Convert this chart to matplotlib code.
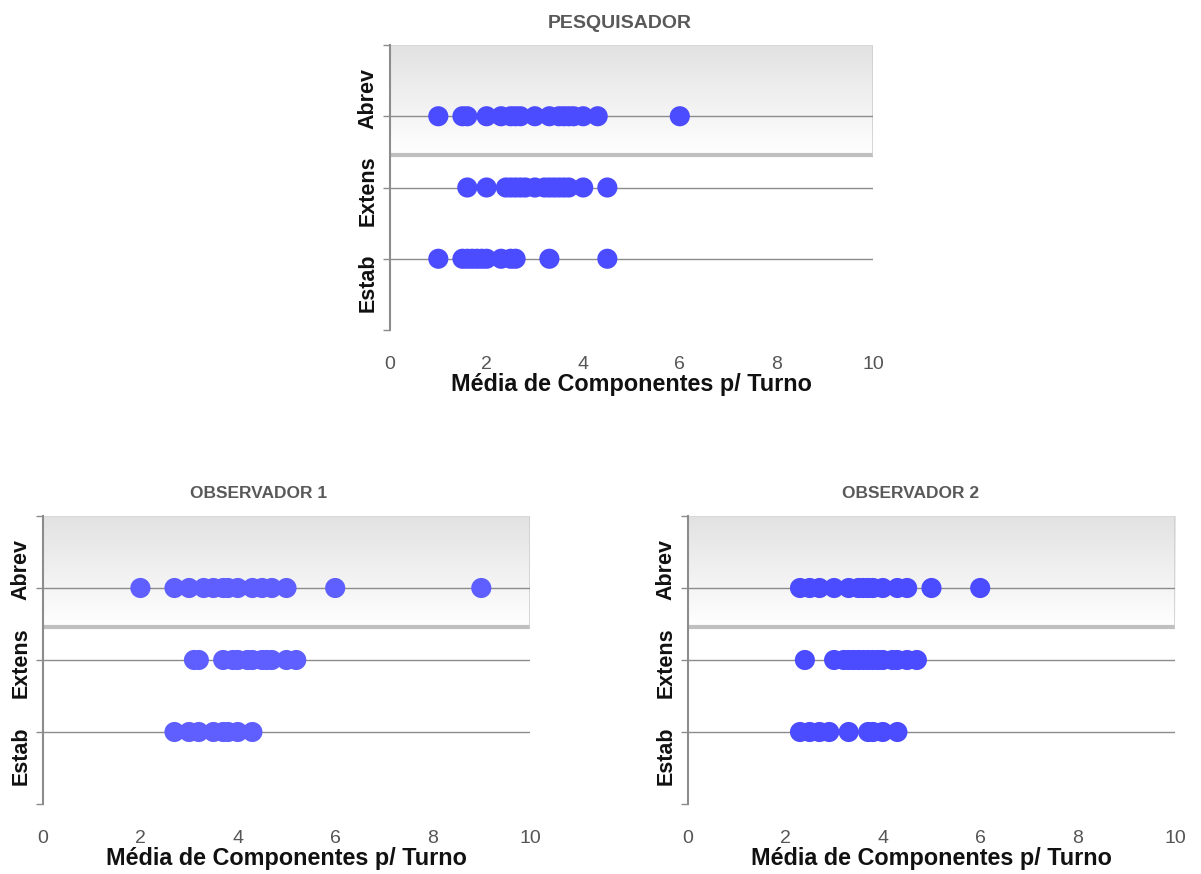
import numpy as np
import matplotlib
matplotlib.use("Agg")
import matplotlib.pyplot as plt
from matplotlib.colors import LinearSegmentedColormap

plt.rcParams['font.family'] = ['Liberation Sans', 'DejaVu Sans']

# Category rows and their y positions on the dot plot
categories = ["Estab", "Extens", "Abrev"]
category_y = [1, 2, 3]
x_ticks = [0, 2, 4, 6, 8, 10]
x_label = "Média de Componentes p/ Turno"

# Pesquisador
pesq_abrev = [1.0, 1.5, 1.6, 2.0, 2.3, 2.5, 2.6, 2.7, 3.0, 3.3, 3.5, 3.6, 3.7, 3.8, 4.0, 4.3, 6.0]
pesq_extens = [1.6, 2.0, 2.4, 2.5, 2.6, 2.7, 2.8, 3.0, 3.2, 3.3, 3.4, 3.5, 3.6, 3.7, 4.0, 4.5]
pesq_estab = [1.0, 1.5, 1.6, 1.7, 1.8, 1.9, 2.0, 2.3, 2.5, 2.6, 3.3, 4.5]

# Observador 1
obs1_abrev = [2.0, 2.7, 3.0, 3.3, 3.5, 3.7, 3.8, 4.0, 4.3, 4.5, 4.7, 5.0, 6.0, 9.0]
obs1_extens = [3.1, 3.2, 3.7, 3.9, 4.0, 4.2, 4.3, 4.5, 4.6, 4.7, 5.0, 5.2]
obs1_estab = [2.7, 3.0, 3.2, 3.5, 3.7, 3.8, 4.0, 4.3]

# Observador 2
obs2_abrev = [2.3, 2.5, 2.7, 3.0, 3.3, 3.5, 3.6, 3.7, 3.8, 4.0, 4.3, 4.5, 5.0, 6.0]
obs2_extens = [2.4, 3.0, 3.2, 3.3, 3.4, 3.5, 3.6, 3.7, 3.8, 3.9, 4.0, 4.2, 4.3, 4.5, 4.7]
obs2_estab = [2.3, 2.5, 2.7, 2.9, 3.3, 3.7, 3.8, 4.0, 4.3]

W, H = 1201, 874
fig = plt.figure(figsize=(W / 100, H / 100), dpi=100)


def px_axes(left, top, right, bottom):
    return fig.add_axes([left / W, 1 - bottom / H, (right - left) / W, (bottom - top) / H])


def fig_text(x, y, s, **kw):
    fig.text(x / W, 1 - y / H, s, ha="center", va="center", **kw)


def dot_panel(box, title, title_x, title_size, estab, extens, abrev, color):
    left, top, right, bottom = box
    ax = px_axes(left, top, right, bottom)
    ax.set_xlim(0, 10)
    ax.set_ylim(0, 4)
    # shaded upper band with a soft vertical gradient
    sep = 2.46
    grad = np.linspace(0, 1, 256).reshape(-1, 1)
    cmap = LinearSegmentedColormap.from_list("band", ["#ffffff", "#e2e2e2"])
    ax.imshow(grad, extent=(0, 10, sep, 4), origin="lower", aspect="auto", cmap=cmap, zorder=0)
    ax.plot([0, 10], [sep, sep], color="#c0c0c0", lw=3.0, zorder=1, solid_capstyle="butt")
    ax.plot([10, 10], [sep, 4], color="#cfcfcf", lw=1.2, zorder=1)
    ax.plot([0, 10], [4, 4], color="#d6d6d6", lw=1.2, zorder=1)
    for y in category_y:
        ax.axhline(y, color="#8c8c8c", lw=1.0, zorder=1)
    for vals, y in zip([estab, extens, abrev], category_y):
        ax.scatter(vals, [y] * len(vals), s=210, color=color, edgecolors="none", zorder=3)

    for sp in ["top", "right", "bottom"]:
        ax.spines[sp].set_visible(False)
    ax.spines["left"].set_color("#8c8c8c")
    ax.spines["left"].set_linewidth(1.5)
    ax.set_yticks([0, 1, 2, 3, 4])
    ax.set_yticklabels([])
    ax.tick_params(axis="y", length=5, color="#8c8c8c", width=1)
    ax.set_xticks(x_ticks)
    ax.set_xticklabels([str(t) for t in x_ticks], fontsize=14, color="#555555")
    ax.tick_params(axis="x", length=0, pad=19)

    fig_text((left + right) / 2, bottom + 55, x_label, fontsize=16.8, fontweight="bold", color="#111111")
    fig_text(title_x, top - 22, title, fontsize=title_size, fontweight="bold", color="#595959")

    # rotated category labels a fixed distance left of the axis
    label_y = [0.67, 1.96, 3.25]
    for name, y in zip(categories, label_y):
        ypx = bottom - (bottom - top) * y / 4
        fig_text(left - 22, ypx, name, rotation=90, fontsize=15.5, fontweight="bold", color="#111111")
    return ax


dot_panel((390, 45, 873, 330), "PESQUISADOR", 620, 14, pesq_estab, pesq_extens, pesq_abrev, "#4b4bff")
dot_panel((43, 516, 530, 804), "OBSERVADOR 1", 259, 12.5, obs1_estab, obs1_extens, obs1_abrev, "#5f5fff")
dot_panel((688, 516, 1175, 804), "OBSERVADOR 2", 911, 12.5, obs2_estab, obs2_extens, obs2_abrev, "#4b4bff")

fig.savefig("out.png", dpi=100)
